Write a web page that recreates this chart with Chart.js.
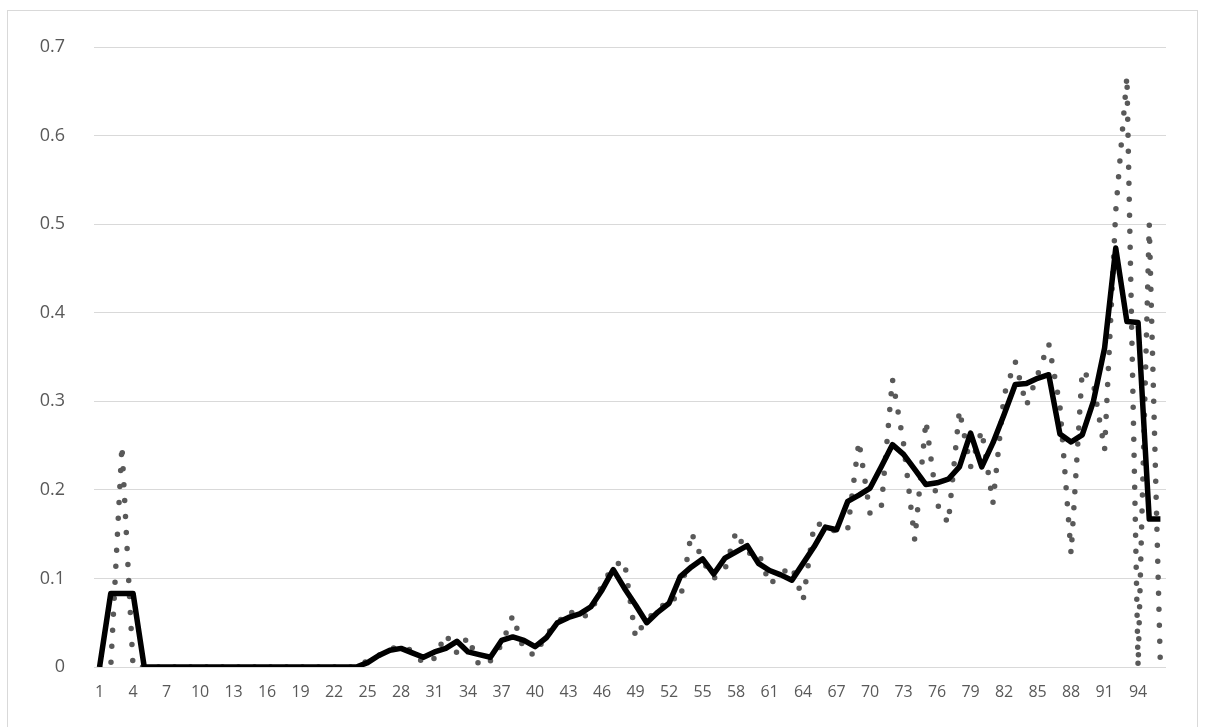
<!DOCTYPE html>
<html>
<head>
<meta charset="utf-8">
<script src="https://cdn.jsdelivr.net/npm/chart.js@4/dist/chart.umd.min.js"></script>
<style>
  html, body { margin: 0; padding: 0; background: #ffffff; }
  #wrap { width: 1205px; height: 727px; }
</style>
</head>
<body>
<div id="wrap"><canvas id="c" width="1205" height="727"></canvas></div>
<script>
const categories = ['1','2','3','4','5','6','7','8','9','10','11','12','13','14','15','16','17','18','19','20',
  '21','22','23','24','25','26','27','28','29','30','31','32','33','34','35','36','37','38','39','40',
  '41','42','43','44','45','46','47','48','49','50','51','52','53','54','55','56','57','58','59','60',
  '61','62','63','64','65','66','67','68','69','70','71','72','73','74','75','76','77','78','79','80',
  '81','82','83','84','85','86','87','88','89','90','91','92','93','94','95','96'];

const xTickLabels = ['1','4','7','10','13','16','19','22','25','28','31','34','37','40','43','46','49','52',
  '55','58','61','64','67','70','73','76','79','82','85','88','91','94'];

const yTickLabels = ['0','0.1','0.2','0.3','0.4','0.5','0.6','0.7'];

// dotted grey series (raw values)
const rawValues = [0, 0, 0.25, 0,
  0, 0, 0, 0, 0, 0, 0, 0, 0, 0, 0, 0, 0, 0, 0, 0, 0, 0, 0, 0,
  0.007, 0.013, 0.021, 0.022, 0.019, 0.004, 0.01, 0.037, 0.016, 0.034,
  0.001, 0.007, 0.025, 0.058, 0.019, 0.013, 0.037, 0.049, 0.064, 0.055,
  0.061, 0.093, 0.114, 0.12, 0.033, 0.055, 0.062, 0.079, 0.075, 0.152,
  0.12, 0.10, 0.11, 0.153, 0.128, 0.13, 0.093, 0.105, 0.114, 0.075,
  0.162, 0.16, 0.152, 0.156, 0.255, 0.173, 0.18, 0.325, 0.252, 0.143,
  0.278, 0.184, 0.162, 0.29, 0.226, 0.267, 0.185, 0.307, 0.345, 0.295,
  0.33, 0.365, 0.295, 0.128, 0.335, 0.32, 0.245, 0.515, 0.667, 0,
  0.5, 0];

// solid black series (smoothed values)
const smoothValues = [0, 0.083, 0.083, 0.083,
  0, 0, 0, 0, 0, 0, 0, 0, 0, 0, 0, 0, 0, 0, 0, 0, 0, 0, 0, 0,
  0.005, 0.013, 0.019, 0.021, 0.016, 0.011, 0.017, 0.021, 0.029, 0.017,
  0.014, 0.011, 0.03, 0.034, 0.03, 0.023, 0.033, 0.05, 0.056, 0.06,
  0.068, 0.087, 0.11, 0.089, 0.07, 0.05, 0.062, 0.072, 0.102, 0.113,
  0.122, 0.105, 0.123, 0.13, 0.137, 0.117, 0.109, 0.104, 0.098, 0.117,
  0.136, 0.158, 0.155, 0.187, 0.194, 0.202, 0.226, 0.251, 0.24, 0.223,
  0.206, 0.208, 0.212, 0.226, 0.264, 0.226, 0.253, 0.285, 0.319, 0.32,
  0.326, 0.33, 0.263, 0.254, 0.262, 0.3, 0.36, 0.473, 0.39, 0.389,
  0.167, 0.167];

const frame = {
  id: 'frame',
  beforeDraw(chart) {
    const ctx = chart.ctx;
    ctx.save();
    ctx.fillStyle = '#ffffff';
    ctx.fillRect(0, 0, chart.width, chart.height);
    ctx.strokeStyle = '#d9d9d9';
    ctx.lineWidth = 1;
    ctx.strokeRect(7.5, 10.5, 1190, 740);
    ctx.restore();
  }
};

new Chart(document.getElementById('c'), {
  type: 'line',
  data: {
    labels: categories,
    datasets: [
      {
        label: 'smoothed',
        data: smoothValues,
        borderColor: '#000000',
        borderWidth: 5.5,
        pointRadius: 0,
        tension: 0,
        fill: false,
        borderJoinStyle: 'round',
        borderCapStyle: 'butt'
      },
      {
        label: 'raw',
        data: rawValues,
        borderColor: '#595959',
        borderWidth: 5.5,
        borderDash: [0, 16],
        borderCapStyle: 'round',
        borderJoinStyle: 'round',
        pointRadius: 0,
        tension: 0,
        fill: false
      }
    ]
  },
  options: {
    responsive: false,
    animation: false,
    devicePixelRatio: 1,
    layout: { padding: { left: 0, right: 39, top: 47, bottom: 20 } },
    plugins: { legend: { display: false }, tooltip: { enabled: false }, title: { display: false } },
    scales: {
      x: {
        type: 'category',
        offset: true,
        grid: { display: false, drawTicks: false },
        border: { display: false },
        ticks: {
          autoSkip: false,
          maxRotation: 0,
          minRotation: 0,
          padding: 16,
          color: '#595959',
          font: { family: 'Open Sans', size: 16 },
          callback: function(value, index) {
            const lab = categories[index];
            return xTickLabels.includes(lab) ? lab : '';
          }
        },
        afterFit(scale) { scale.height = 40; }
      },
      y: {
        min: 0,
        max: 0.7,
        grid: { color: '#d9d9d9', lineWidth: 1, drawTicks: false },
        border: { display: false },
        ticks: {
          stepSize: 0.1,
          padding: 29,
          color: '#595959',
          font: { family: 'Open Sans', size: 18 },
          callback: function(value, index) { return yTickLabels[index]; }
        },
        afterFit(scale) { scale.width = 94; }
      }
    }
  },
  plugins: [frame]
});
</script>
</body>
</html>
